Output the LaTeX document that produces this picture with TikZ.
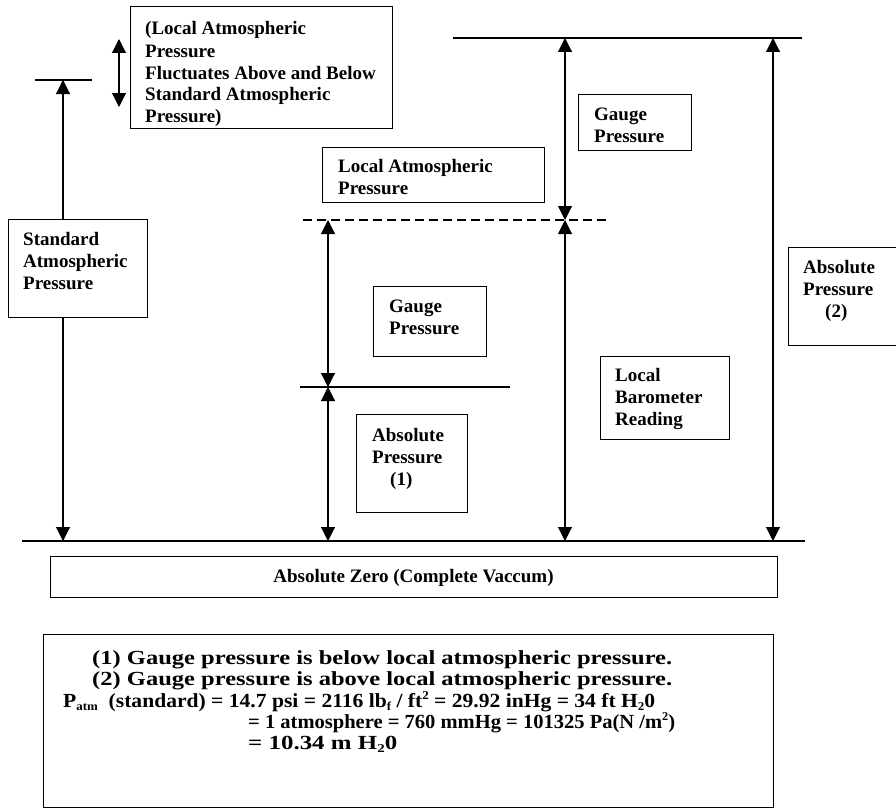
\documentclass[tikz,border=0pt]{standalone}
\usepackage{fontspec}
\setmainfont{Liberation Serif}
\usepackage{graphicx}
\usetikzlibrary{arrows.meta}
\newcommand\lines[1]{\begin{tabular}[t]{@{}l@{}}#1\end{tabular}}
\newcommand\mysub[1]{\raisebox{-0.35ex}{\fontsize{12}{12}\selectfont #1}}
\newcommand\mysup[1]{\raisebox{0.8ex}{\fontsize{12}{12}\selectfont #1}}
\tikzset{
  box/.style={draw, line width=1.2pt, fill=white, rectangle, inner sep=0pt, anchor=north west},
  lvl/.style={line width=1.3pt},
  dim/.style={line width=1.1pt, {Triangle[length=14pt,width=14pt]}-{Triangle[length=14pt,width=14pt]}},
  txt/.style={anchor=base west, inner sep=0pt, font=\fontsize{19}{22}\selectfont\bfseries},
  note/.style={anchor=base west, inner sep=0pt, font=\fontsize{20}{22}\selectfont\bfseries},
}
\begin{document}
\begin{tikzpicture}[x=1pt,y=-1pt]
\useasboundingbox (0,0) rectangle (896,808);
% level lines
\coordinate (stdL) at (35,80);   \coordinate (stdR) at (92,80);
\coordinate (topL) at (453,38);  \coordinate (topR) at (802,38);
\coordinate (dashL) at (303,220); \coordinate (dashR) at (607,220);
\coordinate (midL) at (300,387); \coordinate (midR) at (510,387);
\coordinate (zeroL) at (22,541); \coordinate (zeroR) at (805,541);
\draw[lvl] (stdL) -- (stdR);
\draw[lvl] (topL) -- (topR);
\draw[lvl, dash pattern=on 9pt off 5pt] (dashL) -- (dashR);
\draw[lvl] (midL) -- (midR);
\draw[lvl] (zeroL) -- (zeroR);
% arrow end points
\coordinate (a1t) at (63,80);   \coordinate (a1b) at (63,541);
\coordinate (ft) at (119,39);   \coordinate (fb) at (119,107);
\coordinate (b1t) at (328,220); \coordinate (b1m) at (328,387); \coordinate (b1b) at (328,541);
\coordinate (b2t) at (565,38);  \coordinate (b2m) at (565,220); \coordinate (b2b) at (565,541);
\coordinate (b3t) at (773,38);  \coordinate (b3b) at (773,541);
\draw[dim] (a1t) -- (a1b);
\draw[dim] (ft) -- (fb);
\draw[dim] (b1t) -- (b1m);
\draw[dim] (b1m) -- (b1b);
\draw[dim] (b2t) -- (b2m);
\draw[dim] (b2m) -- (b2b);
\draw[dim] (b3t) -- (b3b);
% boxes
\node[box, minimum width=262pt, minimum height=122pt] (fluct) at (130,6) {};
\node[box, minimum width=139pt, minimum height=98pt] (std) at (8,219) {};
\node[box, minimum width=222pt, minimum height=55pt] (locatm) at (322,147) {};
\node[box, minimum width=113pt, minimum height=70pt] (gauge1) at (373,286) {};
\node[box, minimum width=111pt, minimum height=98pt] (abs1) at (356,414) {};
\node[box, minimum width=113pt, minimum height=56pt] (gauge2) at (578,94) {};
\node[box, minimum width=129pt, minimum height=83pt] (baro) at (600,356) {};
\node[box, minimum width=112pt, minimum height=98pt] (abs2) at (788,247) {};
\node[box, minimum width=727pt, minimum height=41pt] (zero) at (50,556) {};
\node[box, minimum width=730pt, minimum height=173pt] (notes) at (43,634) {};
% texts
\node[txt] (fluctT) at (145,35) {\lines{(Local Atmospheric\\Pressure\\Fluctuates Above and Below\\Standard Atmospheric\\Pressure)}};
\node[txt] (stdT) at (23,245) {\lines{Standard\\Atmospheric\\Pressure}};
\node[txt] (locatmT) at (338,172) {\lines{Local Atmospheric\\Pressure}};
\node[txt] (gauge1T) at (389,312) {\lines{Gauge\\Pressure}};
\node[txt] (abs1T) at (372,441) {\lines{Absolute\\Pressure\\\hspace*{18pt}(1)}};
\node[txt] (gauge2T) at (594,120) {\lines{Gauge\\Pressure}};
\node[txt] (baroT) at (615,381) {\lines{Local\\Barometer\\Reading}};
\node[txt] (abs2T) at (803,273) {\lines{Absolute\\Pressure\\\hspace*{22pt}(2)}};
\node[txt, anchor=base] (zeroT) at (413.5,582) {Absolute Zero (Complete Vaccum)};
% notes
\node[note] (n1) at (92,664) {\resizebox{580pt}{\height}{(1) Gauge pressure is below local atmospheric pressure.}};
\node[note] (n2) at (92,685.5) {\resizebox{580pt}{\height}{(2) Gauge pressure is above local atmospheric pressure.}};
\node[note] (n3) at (63,707) {\resizebox{592pt}{\height}{P\mysub{atm} \ (standard) = 14.7 psi = 2116 lb\mysub{f} / ft\mysup{2} = 29.92 inHg = 34 ft H\mysub{2}0}};
\node[note] (n4) at (248,728) {\resizebox{427pt}{\height}{= 1 atmosphere = 760 mmHg = 101325 Pa(N /m\mysup{2})}};
\node[note] (n5) at (248,749) {\resizebox{149pt}{\height}{= 10.34 m H\mysub{2}0}};
\end{tikzpicture}
\end{document}
